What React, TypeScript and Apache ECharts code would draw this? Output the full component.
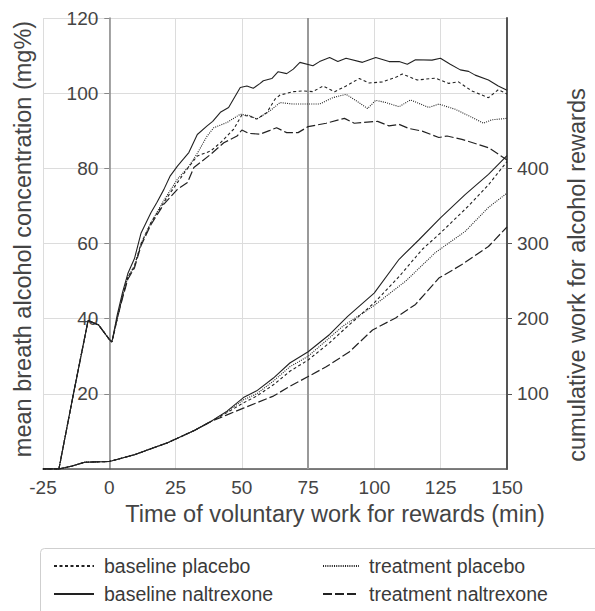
import React, { useEffect, useRef } from "react";
import * as echarts from "echarts";

// ---------- data ----------
const xTicks = [-25, 0, 25, 50, 75, 100, 125, 150];
const leftTicks = [20, 40, 60, 80, 100, 120];
const rightTicks = [100, 200, 300, 400];
const seriesNames = ["baseline placebo", "baseline naltrexone", "treatment placebo", "treatment naltrexone"];

// breath alcohol (mg%), shared pre-work priming phase
const bacPre = [[-25, 0], [-19, 0], [-13.6, 19.7], [-8, 39.5], [-4, 38.3], [0, 34.5], [1, 33.8]];

const bacBaselinePlacebo = [
  [3, 40], [5, 46], [7, 51], [9.5, 54], [12, 60], [15.7, 65.5], [20.6, 71], [25.7, 76.2], [29, 79.5],
  [33.2, 83.3], [38.2, 84.6], [41.9, 86.8], [46.9, 90.4], [50, 94.2], [53.1, 93.8], [55.6, 93.1],
  [59.4, 94.8], [62.5, 98.4], [64.4, 99.5], [69.4, 100.4], [73.1, 100.6], [76.8, 100.4], [80.6, 101.9],
  [85, 100.4], [89.3, 101.9], [94.3, 103.9], [98, 102.7], [103, 103], [108, 104.2], [110.5, 105.1],
  [116.1, 103.5], [123, 104], [128, 102.6], [131.7, 103], [136.7, 100.6], [143, 98.8], [146.7, 100.9], [150, 99.8],
];
const bacBaselineNaltrexone = [
  [3, 41], [5, 47], [7, 52], [9.5, 56], [12, 62.8], [15.7, 68.2], [18, 71], [20.6, 74.4], [23, 78],
  [25.7, 80.6], [28, 82.5], [30, 84.2], [33.2, 89], [36.9, 91.3], [39, 92.5], [41.9, 94.9], [45, 96.2],
  [49.4, 101.5], [51.9, 101.9], [54.3, 101.3], [56.9, 102.6], [58.1, 103.3], [61.3, 103.9], [63.7, 105.7],
  [66.9, 105.2], [69.4, 106.4], [71.9, 108.2], [76.8, 107.3], [79.3, 108.4], [83.1, 109.5], [86.2, 108.4],
  [89.3, 109.3], [95.5, 108.2], [100.5, 109.5], [105.5, 108.4], [109.3, 108.4], [112.4, 107.7],
  [115.5, 108.9], [121.7, 108.8], [124.9, 109.3], [128.6, 107.7], [132.4, 106.2], [135.5, 105.8],
  [138, 104.8], [143, 103.5], [146.7, 101.9], [150, 100.8],
];
const bacTreatmentPlacebo = [
  [3, 40], [5, 46], [7, 51], [9.5, 54], [12, 60], [15.7, 65.5], [20.6, 71.5], [25.7, 77.1], [30, 80.5],
  [33.2, 84], [36.9, 88.6], [39.4, 90.8], [44.4, 92.2], [49.4, 94.4], [53.1, 94], [55.6, 93.1], [60.6, 95.3],
  [64.4, 97.5], [69.4, 97.1], [79.3, 97.1], [84.3, 98.8], [89.3, 99.7], [93.1, 98], [97.4, 95.9], [100.5, 98.1],
  [104.3, 97.5], [109.3, 96.4], [113.6, 98.2], [120.5, 96.2], [124.3, 97.1], [130.5, 95.7], [135.5, 94],
  [141.1, 92], [144.2, 92.9], [150, 93.3],
];
const bacTreatmentNaltrexone = [
  [3, 40], [5, 45.5], [7, 50.5], [9.5, 53.5], [12, 59.5], [15.7, 65], [20.6, 70.5], [25.7, 74.4], [29.5, 76.2],
  [31.9, 80.2], [38.2, 83.7], [43.2, 86.8], [48.2, 88.6], [50, 90.2], [52.5, 89.3], [56.9, 89.1], [60.6, 90.1],
  [63.1, 90.8], [66.9, 89.5], [71.2, 89.5], [75, 91.1], [81.8, 92], [88.7, 93.3], [92.4, 92], [101.2, 92.5],
  [105.5, 91.3], [109.3, 91.7], [113, 90.6], [118, 89.9], [124.3, 88.2], [127.4, 88.6], [133, 87.7],
  [138, 86.6], [143, 85.5], [148.6, 82.9], [150, 82.2],
];

// cumulative work for alcohol rewards, shared early phase
const workPre = [
  [-25, 0], [-19, 0], [-14, 4], [-9.3, 9], [-5, 9.5], [0, 10], [3.2, 13], [9.5, 19], [15.7, 27], [22, 35],
  [25.7, 41], [31.9, 51], [38.2, 63],
];
const workBaselinePlacebo = [
  [44.4, 75], [50.6, 88], [55.6, 97], [61.9, 112], [68.1, 130], [75, 145], [83.1, 168], [89.9, 190],
  [99.9, 221], [109.3, 256], [118, 292], [124.9, 314], [135.5, 350], [143, 378], [150, 409],
];
const workBaselineNaltrexone = [
  [44.4, 77], [50.6, 95], [55.6, 104], [61.9, 121], [68.1, 141], [75, 156], [83.1, 179], [89.9, 203],
  [99.9, 234], [109.3, 279], [116.8, 305], [124.9, 334], [134.2, 365], [143, 392], [150, 417],
];
const workTreatmentPlacebo = [
  [44.4, 76], [50.6, 92], [55.6, 100], [61.9, 117], [68.1, 136], [75, 150], [88.1, 190], [99.3, 216],
  [111.8, 250], [123, 288], [134.2, 316], [143, 348], [150, 367],
];
const workTreatmentNaltrexone = [
  [44.4, 72], [50.6, 81], [55.6, 88], [61.9, 97], [68.1, 110], [75, 123], [81.8, 136], [90.6, 156],
  [99.3, 185], [108, 201], [115.5, 219], [124.3, 254], [133, 272], [143, 296], [150, 322],
];

const bacSets = [bacBaselinePlacebo, bacBaselineNaltrexone, bacTreatmentPlacebo, bacTreatmentNaltrexone];
const workSets = [workBaselinePlacebo, workBaselineNaltrexone, workTreatmentPlacebo, workTreatmentNaltrexone];

// ---------- styles / layout ----------
const FONT = "'Liberation Sans', Arial, Helvetica, sans-serif";
const dashes: any[] = [[3, 2.5], "solid", [1, 1.2], [9, 3]];
const widths = [1.1, 1.1, 1.1, 1.2];
const GRID_LEFT = 43;
const GRID_RIGHT = 88;
const W = 595;
const X_MIN = -25;
const X_MAX = 150;
// left edge of the helper grid that carries the left axis on x = 0
const ZERO_LEFT = GRID_LEFT + ((0 - X_MIN) / (X_MAX - X_MIN)) * (W - GRID_LEFT - GRID_RIGHT);

export default function App() {
  const ref = useRef<HTMLDivElement>(null);

  useEffect(() => {
    if (!ref.current) return;
    const chart = echarts.init(ref.current, null, { renderer: "svg" });

    const series: any[] = [];
    seriesNames.forEach((name, i) => {
      series.push({
        name,
        type: "line",
        xAxisIndex: 0,
        yAxisIndex: 0,
        data: bacPre.concat(bacSets[i]),
        showSymbol: false,
        symbol: "none",
        itemStyle: { color: "#222" },
        lineStyle: { color: "#222", width: widths[i], type: dashes[i] },
        z: 3,
        markLine:
          i === 0
            ? {
                silent: true,
                symbol: "none",
                label: { show: false },
                lineStyle: { color: "#999", width: 2, type: "solid" },
                data: [{ xAxis: 75 }],
                z: 1,
              }
            : undefined,
      });
    });
    seriesNames.forEach((name, i) => {
      series.push({
        name,
        type: "line",
        xAxisIndex: 0,
        yAxisIndex: 1,
        data: workPre.concat(workSets[i]),
        showSymbol: false,
        symbol: "none",
        itemStyle: { color: "#222" },
        lineStyle: { color: "#222", width: widths[i], type: dashes[i] },
        z: 3,
      });
    });

    const legendCommon = {
      orient: "vertical",
      top: 551,
      itemHeight: 14,
      itemGap: 8,
      selectedMode: false,
      itemStyle: { opacity: 0, borderWidth: 0 },
      textStyle: { fontSize: 19.5, color: "#3a3a3a", fontFamily: FONT, padding: [0, 0, 0, 5] },
    };

    chart.setOption({
      animation: false,
      backgroundColor: "#fff",
      grid: [
        { left: GRID_LEFT, right: GRID_RIGHT, top: 18, bottom: 142, containLabel: false },
        { left: ZERO_LEFT, right: GRID_RIGHT, top: 18, bottom: 142, containLabel: false },
      ],
      xAxis: [
        {
          type: "value",
          gridIndex: 0,
          min: X_MIN,
          max: X_MAX,
          interval: 25,
          axisLine: { show: true, onZero: false, lineStyle: { color: "#555", width: 1.5 } },
          axisTick: { show: false },
          axisLabel: { color: "#444", fontSize: 19, fontFamily: FONT, margin: 9, customValues: xTicks },
          splitLine: { show: true, lineStyle: { color: "#dcdcdc", width: 1 } },
        },
        { type: "value", gridIndex: 1, min: 0, max: 1, show: false },
      ],
      yAxis: [
        {
          type: "value",
          gridIndex: 0,
          min: 0,
          max: 120,
          interval: 20,
          position: "left",
          axisLine: { show: false },
          axisTick: { show: false },
          axisLabel: { show: false },
          splitLine: { show: true, lineStyle: { color: "#dcdcdc", width: 1 } },
        },
        {
          type: "value",
          gridIndex: 0,
          min: 0,
          max: 600,
          interval: 100,
          position: "right",
          axisLine: { show: true, onZero: false, lineStyle: { color: "#555", width: 2 } },
          axisTick: { show: true, length: 5, lineStyle: { color: "#555" }, customValues: rightTicks },
          axisLabel: { color: "#444", fontSize: 19, fontFamily: FONT, margin: 10, customValues: rightTicks },
          splitLine: { show: false },
        },
        {
          type: "value",
          gridIndex: 1,
          min: 0,
          max: 120,
          interval: 20,
          position: "left",
          axisLine: { show: true, onZero: false, lineStyle: { color: "#888", width: 1.5 } },
          axisTick: { show: true, length: 5, lineStyle: { color: "#888" }, customValues: leftTicks },
          axisLabel: { color: "#444", fontSize: 19, fontFamily: FONT, margin: 11, customValues: leftTicks },
          splitLine: { show: false },
        },
      ],
      legend: [
        { ...legendCommon, left: 48, itemWidth: 40, data: [seriesNames[0], seriesNames[1]] },
        { ...legendCommon, left: 317, itemWidth: 36, data: [seriesNames[2], seriesNames[3]] },
      ],
      graphic: [
        {
          type: "rect",
          silent: true,
          shape: { x: 40.5, y: 548.5, width: 600, height: 100, r: 4 },
          style: { fill: "none", stroke: "#cfcfcf", lineWidth: 1 },
        },
        {
          type: "text",
          x: 23,
          y: 239,
          rotation: Math.PI / 2,
          style: {
            text: "mean breath alcohol concentration (mg%)",
            font: `23.5px ${FONT}`,
            fill: "#444",
            align: "center",
            verticalAlign: "middle",
          },
        },
        {
          type: "text",
          x: 577,
          y: 275,
          rotation: Math.PI / 2,
          style: {
            text: "cumulative work for alcohol rewards",
            font: `23.5px ${FONT}`,
            fill: "#444",
            align: "center",
            verticalAlign: "middle",
          },
        },
        {
          type: "text",
          x: 335,
          y: 514,
          style: {
            text: "Time of voluntary work for rewards (min)",
            font: `23.5px ${FONT}`,
            fill: "#444",
            align: "center",
            verticalAlign: "middle",
          },
        },
      ],
      series,
    });

    return () => chart.dispose();
  }, []);

  return (
    <div
      ref={ref}
      style={{ position: "fixed", left: 0, top: 0, width: 595, height: 611, background: "#fff" }}
    />
  );
}
